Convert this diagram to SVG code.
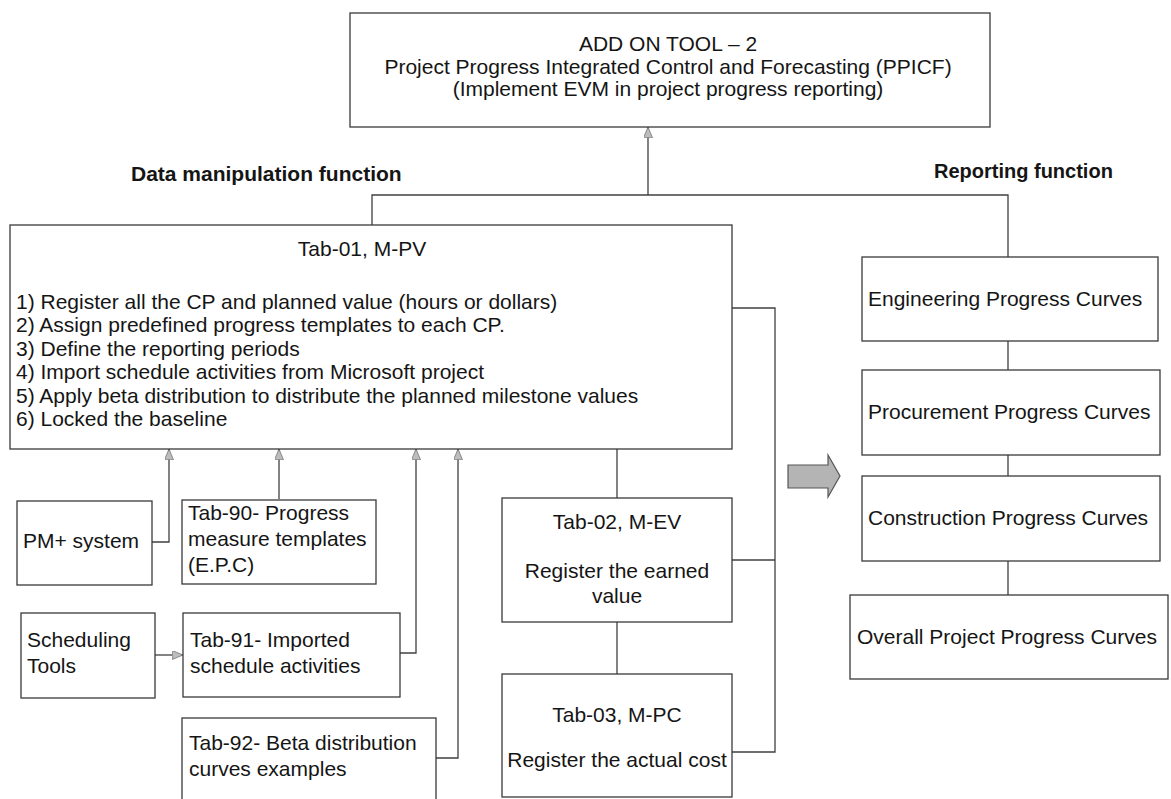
<svg xmlns="http://www.w3.org/2000/svg" width="1171" height="799" viewBox="0 0 1171 799">
  <style>
    .box { fill: #ffffff; stroke: #3a3a3a; stroke-width: 1.3; }
    .t { font-family: "Liberation Sans", Arial, sans-serif; font-size: 21px; fill: #151515; }
    .c { text-anchor: middle; }
    .lbl { font-family: "Liberation Sans", Arial, sans-serif; font-weight: bold; fill: #151515; }
    .wire { fill: none; stroke: #404040; stroke-width: 1.3; }
    .arrowed { marker-end: url(#head); }
  </style>
  <defs>
    <marker id="head" viewBox="0 0 12 10" refX="12" refY="5" markerWidth="12" markerHeight="9" markerUnits="userSpaceOnUse" orient="auto">
      <path d="M0,0 L12,5 L0,10 Z" fill="#bdbdbd" stroke="#6a6a6a" stroke-width="0.8"/>
    </marker>
  </defs>

  <rect width="1171" height="799" fill="#ffffff"/>

  <!-- connectors -->
  <g id="connectors">
    <path class="wire" d="M372,225 V195 H1008 V257"/>
    <path class="wire arrowed" d="M648,195 V127"/>
    <path class="wire" d="M732,308 H775 V752 H732"/>
    <path class="wire" d="M732,560 H775"/>
    <path class="wire" d="M617,449 V498"/>
    <path class="wire" d="M617,622 V674"/>
    <path class="wire arrowed" d="M152,542 H169 V449"/>
    <path class="wire arrowed" d="M279,499 V449"/>
    <path class="wire arrowed" d="M400,653 H416 V449"/>
    <path class="wire arrowed" d="M436,758 H458 V449"/>
    <path class="wire arrowed" d="M155,655 H183"/>
    <path class="wire" d="M1008,341 V370"/>
    <path class="wire" d="M1008,455 V476"/>
    <path class="wire" d="M1008,561 V595"/>
  </g>

  <!-- section headings -->
  <text class="lbl" x="131" y="181" font-size="21">Data manipulation function</text>
  <text class="lbl" x="934" y="178" font-size="20">Reporting function</text>

  <!-- main tool -->
  <g id="ppicf">
    <rect class="box" x="350" y="13" width="640" height="114"/>
    <text class="t c" x="668" y="51">ADD ON TOOL – 2</text>
    <text class="t c" x="668" y="74">Project Progress Integrated Control and Forecasting (PPICF)</text>
    <text class="t c" x="668" y="96">(Implement EVM in project progress reporting)</text>
  </g>

  <g id="tab01">
    <rect class="box" x="10" y="225" width="722" height="224"/>
    <text class="t c" x="362" y="256">Tab-01, M-PV</text>
    <text class="t" x="16" y="309">1) Register all the CP and planned value (hours or dollars)</text>
    <text class="t" x="16" y="332">2) Assign predefined progress templates to each CP.</text>
    <text class="t" x="16" y="356">3) Define the reporting periods</text>
    <text class="t" x="16" y="379">4) Import schedule activities from Microsoft project</text>
    <text class="t" x="16" y="403">5) Apply beta distribution to distribute the planned milestone values</text>
    <text class="t" x="16" y="426">6) Locked the baseline</text>
  </g>

  <g id="pm-system">
    <rect class="box" x="17" y="501" width="135" height="84"/>
    <text class="t" x="23" y="548">PM+ system</text>
  </g>

  <g id="tab90">
    <rect class="box" x="182" y="500" width="194" height="84"/>
    <text class="t" x="188" y="520">Tab-90- Progress</text>
    <text class="t" x="188" y="546">measure templates</text>
    <text class="t" x="188" y="572">(E.P.C)</text>
  </g>

  <g id="scheduling-tools">
    <rect class="box" x="21" y="613" width="134" height="85"/>
    <text class="t" x="27" y="647">Scheduling</text>
    <text class="t" x="27" y="673">Tools</text>
  </g>

  <g id="tab91">
    <rect class="box" x="183" y="613" width="217" height="84"/>
    <text class="t" x="190" y="647">Tab-91- Imported</text>
    <text class="t" x="190" y="673">schedule activities</text>
  </g>

  <g id="tab92">
    <rect class="box" x="182" y="718" width="254" height="100"/>
    <text class="t" x="189" y="750">Tab-92- Beta distribution</text>
    <text class="t" x="189" y="776">curves examples</text>
  </g>

  <g id="tab02">
    <rect class="box" x="502" y="498" width="230" height="124"/>
    <text class="t c" x="617" y="529">Tab-02, M-EV</text>
    <text class="t c" x="617" y="578">Register the earned</text>
    <text class="t c" x="617" y="603">value</text>
  </g>

  <g id="tab03">
    <rect class="box" x="502" y="674" width="230" height="123"/>
    <text class="t c" x="617" y="722">Tab-03, M-PC</text>
    <text class="t c" x="617" y="767">Register the actual cost</text>
  </g>

  <!-- flow into reporting -->
  <g id="to-reporting">
    <path d="M788,465 H828 V455 L840,476 L828,497 V488 H788 Z" fill="#b4b4b4" stroke="#555555" stroke-width="1.2"/>
  </g>

  <g id="engineering">
    <rect class="box" x="862" y="257" width="296" height="84"/>
    <text class="t" x="868" y="306">Engineering Progress Curves</text>
  </g>

  <g id="procurement">
    <rect class="box" x="862" y="370" width="298" height="85"/>
    <text class="t" x="868" y="419">Procurement Progress Curves</text>
  </g>

  <g id="construction">
    <rect class="box" x="862" y="476" width="298" height="85"/>
    <text class="t" x="868" y="525">Construction Progress Curves</text>
  </g>

  <g id="overall">
    <rect class="box" x="850" y="595" width="318" height="84"/>
    <text class="t" x="857" y="644">Overall Project Progress Curves</text>
  </g>
</svg>
